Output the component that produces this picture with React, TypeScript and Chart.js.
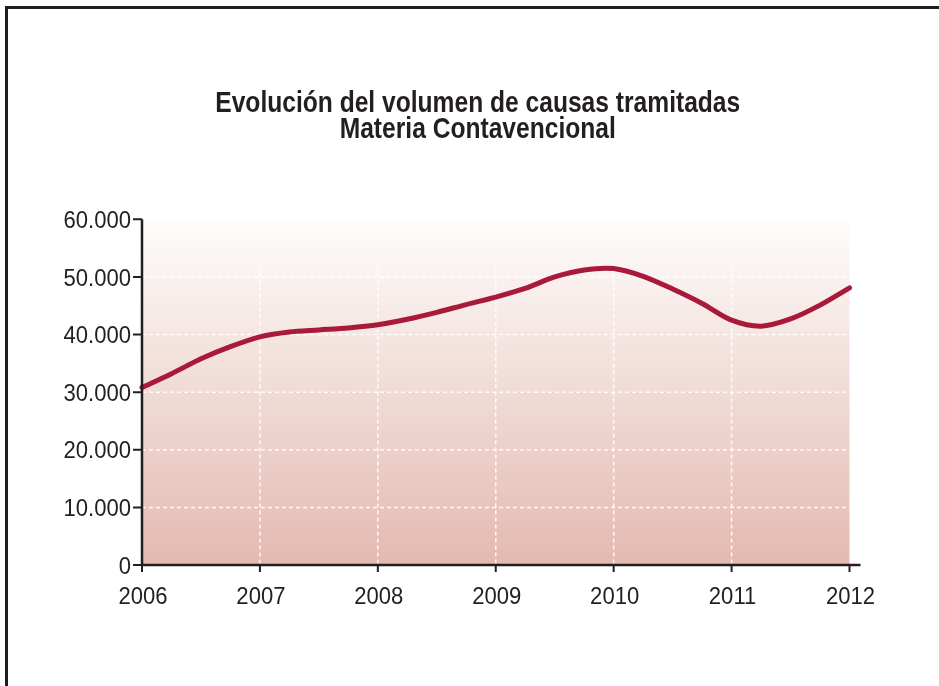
import { useEffect, useRef } from 'react';
import { Chart, registerables } from 'chart.js';

Chart.register(...registerables);

const TITLE_LINES = ['Evolución del volumen de causas tramitadas', 'Materia Contavencional'];
const YEARS = [2006, 2007, 2008, 2009, 2010, 2011, 2012];
const Y_TICKS = [0, 10000, 20000, 30000, 40000, 50000, 60000];
const PERIODS = [
  2006, 2006.25, 2006.5, 2006.75,
  2007, 2007.25, 2007.5, 2007.75,
  2008, 2008.25, 2008.5, 2008.75,
  2009, 2009.25, 2009.5, 2009.75,
  2010, 2010.25, 2010.5, 2010.75,
  2011, 2011.25, 2011.5, 2011.75,
  2012,
];
const VALUES = [
  30800, 33200, 35800, 37900,
  39600, 40450, 40800, 41150,
  41700, 42650, 43850, 45200,
  46500, 48000, 50000, 51200,
  51450, 50100, 47900, 45400,
  42500, 41450, 42700, 45100,
  48100,
];
const V_GRID_TOP = 52000;

const FONT = '"Liberation Sans", Arial, Helvetica, sans-serif';
const INK = '#231f20';
const LINE_COLOR = '#a8193a';

function fmt(v: number): string {
  return String(v).replace(/\B(?=(\d{3})+(?!\d))/g, '.');
}

function narrowText(
  ctx: CanvasRenderingContext2D,
  text: string,
  x: number,
  y: number,
  align: CanvasTextAlign,
  sx: number
) {
  ctx.save();
  ctx.translate(x, y);
  ctx.scale(sx, 1);
  ctx.textAlign = align;
  ctx.textBaseline = 'alphabetic';
  ctx.fillText(text, 0, 0);
  ctx.restore();
}

const backdropPlugin = {
  id: 'backdrop',
  beforeDatasetsDraw(chart: any) {
    const { ctx } = chart;
    const x = chart.scales.x;
    const y = chart.scales.y;
    const x0 = x.getPixelForValue(YEARS[0]);
    const x1 = x.getPixelForValue(YEARS[YEARS.length - 1]);
    const yTop = y.getPixelForValue(Y_TICKS[Y_TICKS.length - 1]);
    const yBot = y.getPixelForValue(Y_TICKS[0]);
    ctx.save();
    const g = ctx.createLinearGradient(0, yTop, 0, yBot);
    g.addColorStop(0, '#fefdfc');
    g.addColorStop(1, '#e3b9b0');
    ctx.fillStyle = g;
    ctx.fillRect(x0, yTop, x1 - x0, yBot - yTop);
    ctx.strokeStyle = 'rgba(255,255,255,0.9)';
    ctx.lineWidth = 1.5;
    ctx.setLineDash([4, 3]);
    for (const t of Y_TICKS.slice(1, -1)) {
      const py = y.getPixelForValue(t);
      ctx.beginPath();
      ctx.moveTo(x0, py);
      ctx.lineTo(x1, py);
      ctx.stroke();
    }
    const vTop = y.getPixelForValue(V_GRID_TOP);
    for (const yr of YEARS.slice(1, -1)) {
      const px = x.getPixelForValue(yr);
      ctx.beginPath();
      ctx.moveTo(px, vTop);
      ctx.lineTo(px, yBot);
      ctx.stroke();
    }
    ctx.restore();
  },
  afterDatasetsDraw(chart: any) {
    const { ctx } = chart;
    const x = chart.scales.x;
    const y = chart.scales.y;
    const x0 = x.getPixelForValue(YEARS[0]);
    const x1 = x.getPixelForValue(YEARS[YEARS.length - 1]);
    const yTop = y.getPixelForValue(Y_TICKS[Y_TICKS.length - 1]);
    const yBot = y.getPixelForValue(Y_TICKS[0]);
    ctx.save();
    ctx.strokeStyle = INK;
    ctx.lineWidth = 2.5;
    ctx.setLineDash([]);
    ctx.beginPath();
    ctx.moveTo(x0, yTop);
    ctx.lineTo(x0, yBot);
    ctx.moveTo(x0 - 1, yBot);
    ctx.lineTo(x1 + 11, yBot);
    ctx.stroke();
    ctx.lineWidth = 2;
    ctx.beginPath();
    for (const t of Y_TICKS) {
      const py = y.getPixelForValue(t);
      ctx.moveTo(x0 - 9, py);
      ctx.lineTo(x0, py);
    }
    for (const yr of YEARS) {
      const px = x.getPixelForValue(yr);
      ctx.moveTo(px, yBot);
      ctx.lineTo(px, yBot + 7);
    }
    ctx.stroke();

    // tick labels
    ctx.fillStyle = INK;
    ctx.font = `24px ${FONT}`;
    for (const t of Y_TICKS) {
      const py = y.getPixelForValue(t);
      narrowText(ctx, fmt(t), x0 - 11, py + 8.6, 'right', 0.92);
    }
    for (const yr of YEARS) {
      const px = x.getPixelForValue(yr);
      narrowText(ctx, String(yr), px + 1, yBot + 39, 'center', 0.92);
    }

    // title
    ctx.font = `bold 30px ${FONT}`;
    const cx = (x0 + x1) / 2 - 18;
    TITLE_LINES.forEach((line, i) => {
      narrowText(ctx, line, cx, 112 + i * 26, 'center', 0.82);
    });
    ctx.restore();
  },
};

export default function App() {
  const canvasRef = useRef<HTMLCanvasElement | null>(null);

  useEffect(() => {
    const canvas = canvasRef.current;
    if (!canvas) return;
    const chart = new Chart(canvas, {
      type: 'line',
      data: {
        datasets: [
          {
            data: PERIODS.map((p, i) => ({ x: p, y: VALUES[i] })),
            borderColor: LINE_COLOR,
            borderWidth: 5,
            pointRadius: 0,
            tension: 0.3,
            fill: false,
            clip: false as any,
            borderCapStyle: 'round',
            borderJoinStyle: 'round',
          },
        ],
      },
      options: {
        animation: false,
        responsive: false,
        events: [],
        layout: { padding: { left: 142, right: 89.5, top: 219.3, bottom: 121 } },
        plugins: {
          legend: { display: false },
          tooltip: { enabled: false },
          title: { display: false },
        },
        scales: {
          x: {
            type: 'linear',
            display: false,
            min: YEARS[0],
            max: YEARS[YEARS.length - 1],
          },
          y: {
            type: 'linear',
            display: false,
            min: Y_TICKS[0],
            max: Y_TICKS[Y_TICKS.length - 1],
          },
        },
      },
      plugins: [backdropPlugin],
    });
    return () => chart.destroy();
  }, []);

  return (
    <div
      style={{
        position: 'fixed',
        left: 0,
        top: 0,
        width: 939,
        height: 686,
        overflow: 'hidden',
        background: '#ffffff',
      }}
    >
      <div
        style={{
          position: 'absolute',
          left: 5,
          top: 6,
          width: 2000,
          height: 2000,
          border: '3px solid #1e1e1e',
        }}
      />
      <canvas
        ref={canvasRef}
        width={939}
        height={686}
        style={{ position: 'absolute', left: 0, top: 0, width: 939, height: 686 }}
      />
    </div>
  );
}
